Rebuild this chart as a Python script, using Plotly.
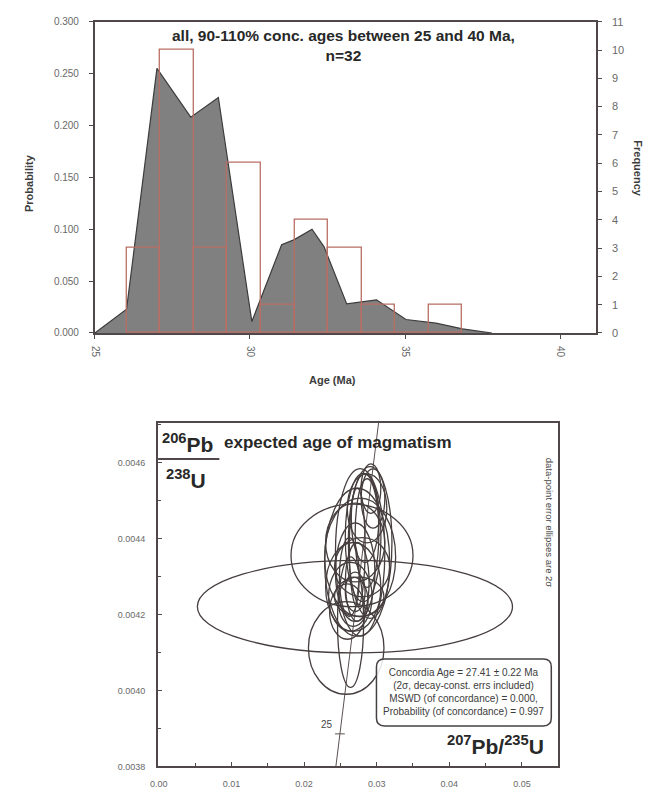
import numpy as np
import plotly.graph_objects as go

# ---------------- Top panel data (age histogram + probability density) ----------
pdp_age = [25.0, 26.02, 27.0, 28.09, 28.98, 30.06, 31.02, 31.43, 32.0, 32.39,
           33.12, 34.08, 35.03, 36.0, 36.85, 37.8]
pdp_prob = [0.0, 0.023, 0.255, 0.208, 0.227, 0.011, 0.085, 0.090, 0.100, 0.083,
            0.028, 0.032, 0.013, 0.0095, 0.004, 0.0]
bin_start = 26.02
bin_width = 1.083
bin_freq = [3, 10, 3, 6, 1, 4, 3, 1, 0, 1]
age_ticks = [25, 30, 35, 40]

# ---------------- Bottom panel data (concordia diagram) -------------------------
# 207Pb/235U centres, 206Pb/238U centres, 2-sigma half-widths
ell_x = [0.0270, 0.0266, 0.0258, 0.0291, 0.0264, 0.02731, 0.02772, 0.02813, 0.02677,
         0.02704, 0.0284, 0.02637, 0.02732, 0.02772, 0.02867, 0.02677, 0.02704,
         0.02799, 0.02596, 0.0292, 0.02732, 0.02867, 0.02623, 0.02759, 0.02704,
         0.02949]
ell_y = [0.004221, 0.004356, 0.004112, 0.004390, 0.004180, 0.004338, 0.004364,
         0.004403, 0.004273, 0.004312, 0.004454, 0.004247, 0.004286, 0.004351,
         0.004480, 0.004234, 0.004260, 0.004325, 0.004208, 0.004532, 0.004377,
         0.004415, 0.004299, 0.004247, 0.004390, 0.004506]
ell_sx = [0.0217, 0.0084, 0.0052, 0.0030, 0.0018, 0.00448, 0.0034, 0.00245, 0.0038,
          0.00272, 0.0019, 0.0030, 0.00163, 0.00489, 0.00272, 0.00204, 0.00136,
          0.0038, 0.00245, 0.00136, 0.00109, 0.00163, 0.00136, 0.0034, 0.00408,
          0.00163]
ell_sy = [0.000122, 0.000135, 0.000122, 0.000200, 0.000172, 0.000195, 0.000221,
          0.000169, 0.000117, 0.000130, 0.000117, 0.000091, 0.000104, 0.000156,
          0.000091, 0.000065, 0.000052, 0.000078, 0.000073, 0.000065, 0.000156,
          0.000143, 0.000104, 0.000052, 0.000104, 0.000078]
conc_ages = [22, 23, 24, 25, 26, 27, 28, 29, 30, 31, 32]   # Ma, points along concordia
conc_label_age = 25
LAMBDA_238 = 1.55125e-4   # 1/Ma
LAMBDA_235 = 9.8485e-4    # 1/Ma

W, H = 657, 796
def px(p):
    return p / W
def py(p):
    return 1 - p / H

frame = "rgb(80,72,72)"
tickc = "rgb(105,105,105)"
FONT = "Liberation Sans, Arial, sans-serif"

fig = go.Figure()

# PDP (probability axis)
fig.add_trace(go.Scatter(x=pdp_age, y=pdp_prob, mode="lines", fill="tozeroy",
                         fillcolor="rgb(128,128,128)",
                         line=dict(color="rgb(60,60,60)", width=1.2),
                         xaxis="x", yaxis="y", showlegend=False, hoverinfo="skip"))
# Histogram (frequency axis)
centers = [bin_start + (i + 0.5) * bin_width for i in range(len(bin_freq))]
fig.add_trace(go.Bar(x=centers, y=bin_freq, width=bin_width,
                     marker=dict(color="rgba(0,0,0,0)",
                                 line=dict(color="rgb(185,110,100)", width=1.3)),
                     xaxis="x", yaxis="y2", showlegend=False, hoverinfo="skip"))

# Concordia curve
conc_x = [np.exp(LAMBDA_235 * t) - 1 for t in conc_ages]
conc_y = [np.exp(LAMBDA_238 * t) - 1 for t in conc_ages]
fig.add_trace(go.Scatter(x=conc_x, y=conc_y, mode="lines",
                         line=dict(color="rgb(90,80,80)", width=1),
                         xaxis="x2", yaxis="y3", showlegend=False, hoverinfo="skip"))
lx = np.exp(LAMBDA_235 * conc_label_age) - 1
ly = np.exp(LAMBDA_238 * conc_label_age) - 1
fig.add_trace(go.Scatter(x=[lx], y=[ly], mode="markers",
                         marker=dict(symbol="line-ew", size=7,
                                     line=dict(color="rgb(90,80,80)", width=1)),
                         xaxis="x2", yaxis="y3", showlegend=False, hoverinfo="skip"))

shapes = []
for cx, cy, sx, sy in zip(ell_x, ell_y, ell_sx, ell_sy):
    shapes.append(dict(type="circle", xref="x2", yref="y3",
                       x0=cx - sx, x1=cx + sx, y0=cy - sy, y1=cy + sy,
                       line=dict(color="rgb(70,62,62)", width=1.3),
                       fillcolor="rgba(0,0,0,0)"))

# fraction bar under 206Pb
shapes.append(dict(type="line", xref="paper", yref="paper",
                   x0=px(152), x1=px(214), y0=py(460), y1=py(460),
                   line=dict(color=frame, width=2)))
# rounded box
x0, x1, y0, y1 = px(373), px(550), py(731), py(663)
rx, ry = 8 / W, 8 / H
path = (f"M {x0+rx},{y1} L {x1-rx},{y1} Q {x1},{y1} {x1},{y1-ry} "
        f"L {x1},{y0+ry} Q {x1},{y0} {x1-rx},{y0} L {x0+rx},{y0} "
        f"Q {x0},{y0} {x0},{y0+ry} L {x0},{y1-ry} Q {x0},{y1} {x0+rx},{y1} Z")
shapes.append(dict(type="path", xref="paper", yref="paper", path=path,
                   line=dict(color="rgb(70,65,65)", width=1.5),
                   fillcolor="rgba(255,255,255,0.85)"))

def ann(text, x, y, size, color="rgb(40,40,40)", xanchor="center", yanchor="middle",
        angle=0, align="center"):
    return dict(text=text, x=px(x), y=py(y), xref="paper", yref="paper",
                xanchor=xanchor, yanchor=yanchor, textangle=angle, showarrow=False,
                align=align, font=dict(size=size, color=color, family=FONT))

annotations = [
    ann("<b>all, 90-110% conc. ages between 25 and 40 Ma,<br>n=32</b>", 340, 19, 15.5,
        yanchor="top"),
    ann("<b>Probability</b>", 22, 180, 11, "rgb(60,60,60)", angle=-90),
    ann("<b>Frequency</b>", 638, 165, 11, "rgb(60,60,60)", angle=90),
    ann("<b>Age (Ma)</b>", 328, 380, 11, "rgb(60,60,60)"),
    ann("<b><sup>206</sup>Pb</b>", 154, 444, 21, xanchor="left"),
    ann("<b>expected age of magmatism</b>", 217, 443, 17, xanchor="left"),
    ann("<b><sup>238</sup>U</b>", 158, 480, 21, xanchor="left"),
    ann("<b><sup>207</sup>Pb/<sup>235</sup>U</b>", 545, 750, 21, xanchor="right"),
    ann("data-point error ellipses are 2σ", 549, 525, 9.5, "rgb(70,70,70)", angle=90),
    ann("Concordia Age = 27.41 ± 0.22 Ma<br>(2σ, decay-const. errs included)<br>"
        "MSWD (of concordance) = 0.000,<br>Probability (of concordance) = 0.997",
        461, 697, 10, "rgb(60,60,60)"),
    dict(text="25", x=lx, y=ly, xref="x2", yref="y3", xanchor="right", yanchor="bottom",
         xshift=-5, yshift=2, showarrow=False,
         font=dict(size=10, color="rgb(70,70,70)", family=FONT)),
]

fig.update_layout(
    width=W, height=H, autosize=False,
    margin=dict(l=0, r=0, t=0, b=0),
    paper_bgcolor="white", plot_bgcolor="rgba(0,0,0,0)",
    bargap=0, showlegend=False,
    shapes=shapes, annotations=annotations,
    font=dict(family=FONT),
    xaxis=dict(domain=[px(88), px(595)], range=[25, 41.15], anchor="y",
               tickvals=age_ticks, tickangle=90, ticks="outside", ticklen=4,
               ticklabelstandoff=5,
               tickcolor=frame, showline=True, linecolor=frame, linewidth=2,
               mirror=True, showgrid=False, zeroline=False,
               tickfont=dict(size=10, color=tickc)),
    yaxis=dict(domain=[py(332), py(16)], range=[0, 0.3], anchor="x",
               dtick=0.05, tickformat=".3f", ticks="outside", ticklen=4,
               ticklabelstandoff=8,
               tickcolor=frame, showline=True, linecolor=frame, linewidth=2,
               showgrid=False, zeroline=False, tickfont=dict(size=10, color=tickc)),
    yaxis2=dict(overlaying="y", side="right", range=[0, 11], anchor="x",
                dtick=1, ticks="outside", ticklen=4, tickcolor=frame,
                ticklabelstandoff=8,
                showline=True, linecolor=frame, linewidth=2, showgrid=False,
                zeroline=False, tickfont=dict(size=11, color=tickc)),
    xaxis2=dict(domain=[px(152), px(557)], range=[-0.0001, 0.0550], anchor="y3",
                dtick=0.01, tick0=0, tickformat=".2f", ticks="inside", ticklen=4,
                ticklabelstandoff=8,
                tickcolor=frame, minor=dict(dtick=0.005, ticks="inside", ticklen=3,
                                            tickcolor=frame),
                showline=True, linecolor=frame, linewidth=2, mirror=True,
                showgrid=False, zeroline=False, tickfont=dict(size=9, color=tickc)),
    yaxis3=dict(domain=[py(772), py(423)], range=[0.0038, 0.004706], anchor="x2",
                dtick=0.0002, tick0=0.0038, tickformat=".4f", ticks="inside", ticklen=4,
                ticklabelstandoff=9,
                tickcolor=frame, minor=dict(dtick=0.0001, ticks="inside", ticklen=3,
                                            tickcolor=frame),
                showline=True, linecolor=frame, linewidth=2, mirror=True,
                showgrid=False, zeroline=False, tickfont=dict(size=9, color=tickc)),
)

fig.write_html("out.html", config={"displayModeBar": False},
               post_script="document.body.style.margin='0';")
